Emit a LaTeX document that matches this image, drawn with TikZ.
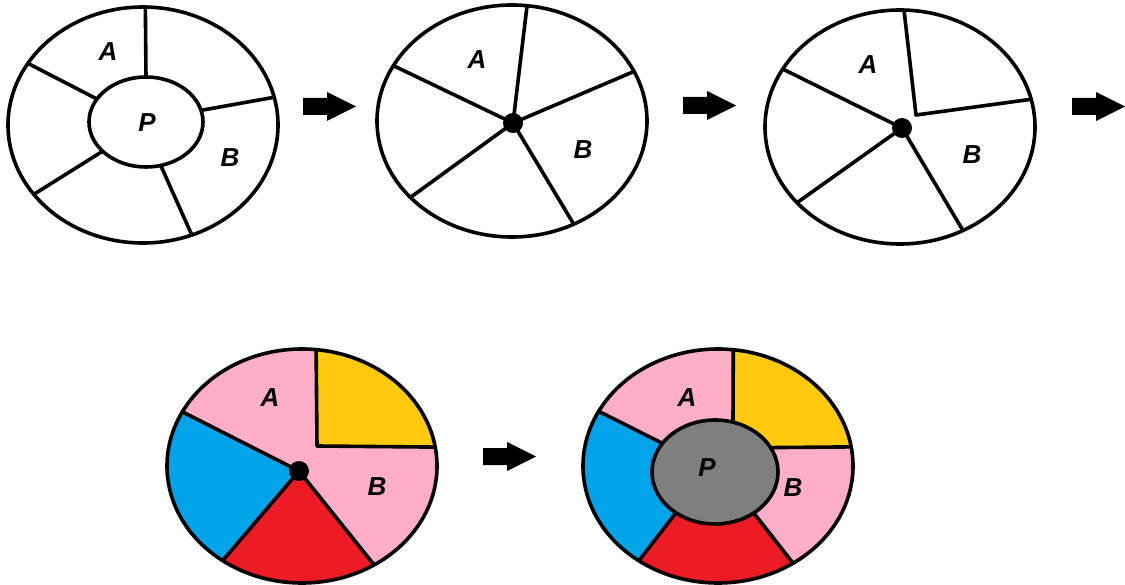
\documentclass[tikz,border=0pt]{standalone}
\usepackage{fontspec}
\setmainfont{Liberation Sans}
\usepackage{xcolor}
\usetikzlibrary{calc}

\definecolor{paintpink}{HTML}{FFAEC9}
\definecolor{paintyellow}{HTML}{FFC90E}
\definecolor{paintblue}{HTML}{00A2E8}
\definecolor{paintred}{HTML}{ED1C24}
\definecolor{paintgray}{HTML}{7F7F7F}

\tikzset{
  rim/.style={line width=3.6pt},
  spoke/.style={line width=3.6pt, line join=round},
  hub/.style={circle, fill=black, inner sep=0pt, minimum size=20pt},
  lbl/.style={inner sep=0pt, font=\fontsize{26}{30}\selectfont\bfseries\itshape},
  fatarrow/.pic={
    \fill (0,-8.5) -- ++(24,0) -- ++(0,-6) -- ++(29,14.5) -- ++(-29,14.5)
      -- ++(0,-6) -- ++(-24,0) -- cycle;
  }
}

\begin{document}
\begin{tikzpicture}[x=1pt,y=-1pt]
    \useasboundingbox (0,0) rectangle (1125,585);

    % Step 1: ring of cells around P
    \coordinate (c1) at (143,125);
    \coordinate (p1) at (146,122);
    \draw[spoke] ($(p1)+(270:57 and 45)$) -- ($(c1)+(271:135 and 118)$);
    \draw[spoke] ($(p1)+(210.7:57 and 45)$) -- ($(c1)+(211.5:135 and 118)$);
    \draw[spoke] ($(p1)+(345:57 and 45)$) -- ($(c1)+(346.4:135 and 118)$);
    \draw[spoke] ($(p1)+(139.5:57 and 45)$) -- ($(c1)+(144:135 and 118)$);
    \draw[spoke] ($(p1)+(75:57 and 45)$) -- ($(c1)+(68.8:135 and 118)$);
    \draw[rim] (p1) ellipse [x radius=57, y radius=45];
    \draw[rim] (c1) ellipse [x radius=135, y radius=118];
    \node[lbl] (a1) at (108,52) {A};
    \node[lbl] (pp1) at (147,123) {P};
    \node[lbl] (b1) at (230,158) {B};

    \pic at (303,106.5) {fatarrow};

    % Step 2: P shrunk to a point
    \coordinate (c2) at (512,121);
    \node[hub] (h2) at (513,123) {};
    \draw[spoke] (h2.center) -- ($(c2)+(276.4:135 and 116)$);
    \draw[spoke] (h2.center) -- ($(c2)+(208.5:135 and 116)$);
    \draw[spoke] (h2.center) -- ($(c2)+(334.7:135 and 116)$);
    \draw[spoke] (h2.center) -- ($(c2)+(138.8:135 and 116)$);
    \draw[spoke] (h2.center) -- ($(c2)+(62.8:135 and 116)$);
    \draw[rim] (c2) ellipse [x radius=135, y radius=116];
    \node[lbl] (a2) at (477,60) {A};
    \node[lbl] (b2) at (583,150) {B};

    \pic at (683,105.5) {fatarrow};

    % Step 3: A and B joined, corner pulled off the point
    \coordinate (c3) at (900,127);
    \node[hub] (h3) at (902,128) {};
    \draw[spoke] (h3.center) -- ($(c3)+(209.7:135 and 117)$);
    \draw[spoke] (h3.center) -- ($(c3)+(139.7:135 and 117)$);
    \draw[spoke] (h3.center) -- ($(c3)+(62.2:135 and 117)$);
    \draw[spoke] ($(c3)+(271.7:135 and 117)$) -- (916,115) -- ($(c3)+(346.3:135 and 117)$);
    \draw[rim] (c3) ellipse [x radius=135, y radius=117];
    \node[lbl] (a3) at (868,65) {A};
    \node[lbl] (b3) at (972,155) {B};

    \pic at (1072,106.5) {fatarrow};

    % Step 4: coloured map
    \coordinate (c4) at (302,466);
    \coordinate (h4) at (299,471);
    \coordinate (u4) at ($(c4)+(207.6:135 and 117)$);
    \coordinate (l4) at ($(c4)+(126:135 and 117)$);
    \coordinate (r4) at ($(c4)+(57.7:135 and 117)$);
    \coordinate (t4) at ($(c4)+(276:135 and 117)$);
    \coordinate (k4) at (317,446);
    \coordinate (e4) at ($(c4)+(350.7:135 and 117)$);
    \fill[paintpink] (c4) ellipse [x radius=135, y radius=117];
    \begin{scope}
      \clip (c4) ellipse [x radius=135, y radius=117];
      \fill[paintblue] (h4) -- ($(h4)!3!(u4)$) -- ($(h4)+(180:400)$) -- ($(h4)!3!(l4)$) -- cycle;
      \fill[paintred] (h4) -- ($(h4)!3!(l4)$) -- ($(h4)+(90:400)$) -- ($(h4)!3!(r4)$) -- cycle;
      \fill[paintyellow] ($(k4)!3!(t4)$) -- (k4) -- ($(k4)!3!(e4)$) -- ++(0,-400) -- cycle;
    \end{scope}
    \draw[spoke] (h4) -- (u4);
    \draw[spoke] (h4) -- (l4);
    \draw[spoke] (h4) -- (r4);
    \draw[spoke] (t4) -- (k4) -- (e4);
    \node[hub] (hh4) at (h4) {};
    \draw[rim] (c4) ellipse [x radius=135, y radius=117];
    \node[lbl] (a4) at (270,398) {A};
    \node[lbl] (b4) at (377,487) {B};

    \pic at (483,456.5) {fatarrow};

    % Step 5: P put back in the middle
    \coordinate (c5) at (718,466);
    \coordinate (p5) at (715,472);
    \coordinate (ui5) at ($(p5)+(213.5:63 and 52)$);
    \coordinate (uo5) at ($(c5)+(207.9:135 and 117)$);
    \coordinate (li5) at ($(p5)+(128.3:63 and 52)$);
    \coordinate (lo5) at ($(c5)+(125.9:135 and 117)$);
    \coordinate (ri5) at ($(p5)+(52:63 and 52)$);
    \coordinate (ro5) at ($(c5)+(56.2:135 and 117)$);
    \coordinate (ti5) at ($(p5)+(286.6:63 and 52)$);
    \coordinate (to5) at ($(c5)+(276.5:135 and 117)$);
    \coordinate (ei5) at ($(p5)+(332:63 and 52)$);
    \coordinate (eo5) at ($(c5)+(350.6:135 and 117)$);
    \coordinate (xt5) at ($(ti5)!4!(to5)$);
    \coordinate (xe5) at ($(ei5)!4!(eo5)$);
    \fill[paintpink] (c5) ellipse [x radius=135, y radius=117];
    \begin{scope}
      \clip (c5) ellipse [x radius=135, y radius=117];
      \fill[paintblue] (ui5) -- ($(ui5)!4!(uo5)$) -- ($(p5)+(180:400)$) -- ($(li5)!4!(lo5)$) -- (li5) -- cycle;
      \fill[paintred] (li5) -- ($(li5)!4!(lo5)$) -- ($(p5)+(90:400)$) -- ($(ri5)!4!(ro5)$) -- (ri5) -- cycle;
      \fill[paintyellow] (ti5) -- (xt5) -- (xe5 |- xt5) -- (xe5) -- (ei5) -- cycle;
    \end{scope}
    \filldraw[rim, fill=paintgray] (p5) ellipse [x radius=63, y radius=52];
    \draw[spoke] (ui5) -- (uo5);
    \draw[spoke] (li5) -- (lo5);
    \draw[spoke] (ri5) -- (ro5);
    \draw[spoke] (ti5) -- (to5);
    \draw[spoke] (ei5) -- (eo5);
    \draw[rim] (c5) ellipse [x radius=135, y radius=117];
    \node[lbl] (a5) at (687,398) {A};
    \node[lbl] (pp5) at (707,468) {P};
    \node[lbl] (b5) at (793,488) {B};
\end{tikzpicture}
\end{document}
